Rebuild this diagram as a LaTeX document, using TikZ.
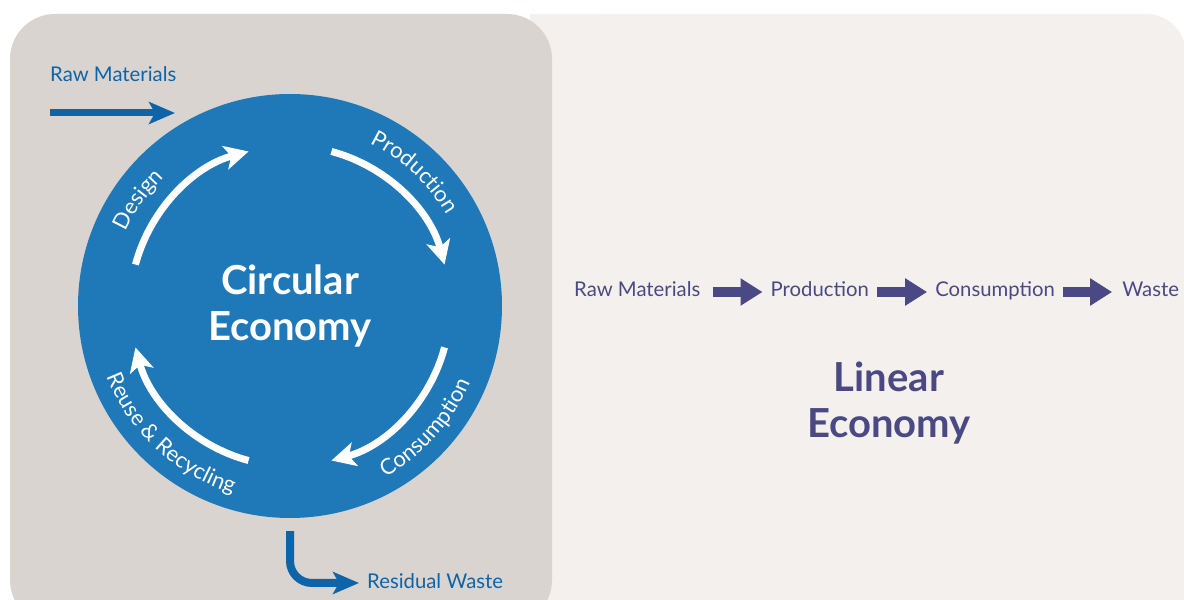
\documentclass[tikz,border=0pt]{standalone}
\usepackage{fontspec}
\setmainfont{Lato}
\usetikzlibrary{positioning,arrows.meta,decorations.text}
\definecolor{panelL}{HTML}{DAD4D0}
\definecolor{panelR}{HTML}{F3F0ED}
\definecolor{circBlue}{HTML}{1F78B8}
\definecolor{arrBlue}{HTML}{0D64A8}
\definecolor{linPurple}{HTML}{4A4984}
\newcommand{\lblfont}{\fontsize{20.3}{22}\selectfont}
\newcommand{\bogenfont}{\fontsize{22}{24}\selectfont}

\begin{document}
\begin{tikzpicture}[x=1pt, y=1pt,
	lbl/.style={font=\lblfont, inner sep=0pt, text height=14pt, text depth=4pt},
	titel/.style={font=\fontsize{40}{46}\selectfont\bfseries, align=center, inner sep=0pt},
	kreis/.style={white, line width=7pt, -{Stealth[length=24pt, width=24pt, inset=6pt]}},
	bluearr/.style={arrBlue, line width=7pt, -{Stealth[length=26pt, width=22pt, inset=6pt]}},
	blockarr/.style={linPurple, line width=10pt, -{Triangle[length=22pt, width=26pt]}},
	arclbl/.style={decorate, decoration={text along path, text align=center, text={|\bogenfont\color{white}|#1}}}
]
	\useasboundingbox (0,0) rectangle (1184,600);
	\fill[white] (0,0) rectangle (1184,600);
	
	%Felder
	\fill[panelR, rounded corners=40pt] (560,-60) rectangle (1186,586);
	\fill[panelR] (530,-60) rectangle (600,586);
	\fill[panelL, rounded corners=45pt] (10,-25) rectangle (552,586);
	
	%Kreislauf
	\node[circle, fill=circBlue, minimum size=424pt, titel, text=white] (circ) at (290,294) {Circular\\Economy};
	\draw[kreis] ([shift={(165:160)}]circ.center) arc[start angle=165, end angle=105, radius=160];
	\draw[kreis] ([shift={(75:160)}]circ.center) arc[start angle=75, end angle=15, radius=160];
	\draw[kreis] ([shift={(-15:160)}]circ.center) arc[start angle=-15, end angle=-75, radius=160];
	\draw[kreis] ([shift={(-105:160)}]circ.center) arc[start angle=-105, end angle=-165, radius=160];
	
	%Beschriftung der Boegen
	\path[arclbl={Design}] ([shift={(190:180)}]circ.center) arc[start angle=190, end angle=100, radius=180];
	\path[arclbl={Production}] ([shift={(92:181)}]circ.center) arc[start angle=92, end angle=2, radius=181];
	\path[arclbl={Consumption}] ([shift={(-87:196)}]circ.center) arc[start angle=-87, end angle=3, radius=196];
	\path[arclbl={Reuse {\&} Recycling}] ([shift={(-178:196)}]circ.center) arc[start angle=-178, end angle=-88, radius=196];
	
	%Zufluss und Abfluss
	\node[lbl, text=arrBlue, anchor=west] (rawL) at (50,523) {Raw Materials};
	\coordinate (rawS) at (50,487);
	\coordinate (rawE) at (175,487);
	\draw[bluearr] (rawS) -- (rawE);
	\node[lbl, text=arrBlue, anchor=west] (resid) at (367,17) {Residual Waste};
	\draw[bluearr, line width=8pt, rounded corners=22pt, shorten <=13pt, shorten >=8pt] (circ.south) |- (resid.west);
	
	%Lineare Wirtschaft
	\node[lbl, text=linPurple, anchor=west] (lRaw) at (574,308) {Raw Materials};
	\node[lbl, text=linPurple, right=70pt of lRaw] (lProd) {Production};
	\node[lbl, text=linPurple, right=66pt of lProd] (lCons) {Consumption};
	\node[lbl, text=linPurple, right=67pt of lCons] (lWaste) {Waste};
	\draw[blockarr, shorten <=12pt, shorten >=8pt] (lRaw.east) -- (lProd.west);
	\draw[blockarr, shorten <=8pt, shorten >=8pt] (lProd.east) -- (lCons.west);
	\draw[blockarr, shorten <=8pt, shorten >=10pt] (lCons.east) -- (lWaste.west);
	\node[titel, text=linPurple] (linT) at (889,197) {Linear\\Economy};
\end{tikzpicture}
\end{document}
